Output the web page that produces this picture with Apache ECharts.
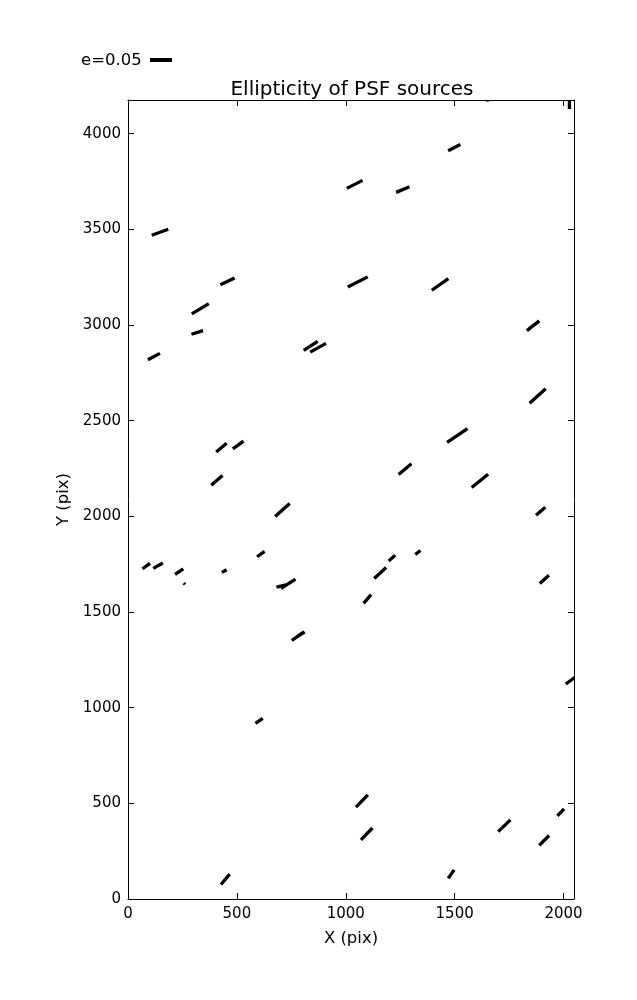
<!DOCTYPE html>
<html>
<head>
<meta charset="utf-8">
<script src="https://cdn.jsdelivr.net/npm/echarts@6/dist/echarts.min.js"></script>
<style>
  html, body { margin: 0; padding: 0; background: #fff; }
  #chart { width: 637px; height: 1000px; }
</style>
</head>
<body>
<div id="chart"></div>
<script>
// Source positions (pix), ellipticity and position angle (deg, screen frame)
const srcX = [1498, 1041, 1262, 147, 1055, 1433, 457, 332, 318, 119, 839, 873, 429, 506, 408, 709,
  1860, 1881, 1512, 1272, 1616, 1895, 84, 138, 235, 259, 442, 610, 704, 736, 780, 796, 602, 447,
  1099, 1158, 1212, 1331, 1912, 2048, 1074, 1096, 1484, 1728, 1911, 1987, 2027, 1665];
const srcY = [3927, 3735, 3708, 3485, 3225, 3212, 3228, 3085, 2961, 2835, 2891, 2881, 2359, 2373, 2188, 2033,
  2996, 2629, 2423, 2247, 2185, 2027, 1740, 1742, 1711, 1648, 1714, 1803, 1636, 1648, 1373, 1386, 931, 103,
  1568, 1704, 1782, 1811, 1671, 1155, 512, 340, 130, 383, 306, 453, 4178, 4222];
const srcE = [0.031, 0.040, 0.033, 0.040, 0.051, 0.046, 0.036, 0.045, 0.0275, 0.031, 0.038, 0.041, 0.031, 0.030, 0.034, 0.0445,
  0.036, 0.049, 0.056, 0.038, 0.048, 0.028, 0.021, 0.025, 0.0225, 0.004, 0.0125, 0.021, 0.0225, 0.039, 0.033, 0.017, 0.020, 0.031,
  0.026, 0.037, 0.020, 0.015, 0.028, 0.046, 0.039, 0.0375, 0.0235, 0.0385, 0.032, 0.022, 0.043, 0.050];
const srcTheta = [27, 27, 23, 20, 27, 35, 26, 31, 17, 28, 33, 29, 40, 36, 41, 42,
  38, 42, 34, 40, 39, 41, 35, 29, 34, -45, 29, 36, 13, 33, 34, 29, 35, 50,
  49, 43, 42, 39, 42, 36, 46, 46, 55, 44, 45, 46, 90, 70];

const xTicks = [0, 500, 1000, 1500, 2000];
const yTicks = [0, 500, 1000, 1500, 2000, 2500, 3000, 3500, 4000];
const X_MAX = 2048, Y_MAX = 4176;
const KEY_E = 0.05;
const KEY_LABEL = 'e=0.05';
const TITLE = 'Ellipticity of PSF sources';

const PX_PER_E = 440;   // stick length scale
const STICK_W = 3.3;
const FONT = 'DejaVu Sans';

const data = srcX.map((x, i) => [x, srcY[i], srcE[i], srcTheta[i]]);

const chart = echarts.init(document.getElementById('chart'), null, { renderer: 'canvas' });

const tickFmtX = v => (xTicks.indexOf(v) >= 0 ? String(v) : '');
const tickFmtY = v => (yTicks.indexOf(v) >= 0 ? String(v) : '');

const axisCommon = {
  type: 'value',
  splitLine: { show: false },
  axisLine: { show: true, onZero: false, lineStyle: { color: '#000', width: 1 } },
  axisTick: { show: true, inside: true, length: 6, lineStyle: { color: '#000', width: 1 } },
  minorTick: { show: false }
};

const option = {
  animation: false,
  backgroundColor: '#fff',
  title: {
    text: TITLE,
    left: 347, top: 75,
    textAlign: 'center',
    textStyle: { fontFamily: FONT, fontSize: 20, fontWeight: 'normal', color: '#000' }
  },
  grid: { left: 128, top: 100, width: 446, height: 799 },
  xAxis: [
    Object.assign({}, axisCommon, {
      position: 'bottom', min: 0, max: X_MAX, interval: 500,
      name: 'X (pix)', nameLocation: 'middle', nameGap: 31,
      nameTextStyle: { fontFamily: FONT, fontSize: 16.5, color: '#000' },
      axisLabel: { show: true, margin: 8, formatter: tickFmtX, fontFamily: FONT, fontSize: 15, color: '#000' }
    }),
    Object.assign({}, axisCommon, {
      position: 'top', min: 0, max: X_MAX, interval: 500,
      axisLabel: { show: false }
    })
  ],
  yAxis: [
    Object.assign({}, axisCommon, {
      position: 'left', min: 0, max: Y_MAX, interval: 500,
      name: 'Y (pix)', nameLocation: 'middle', nameGap: 56, nameRotate: 90,
      nameTextStyle: { fontFamily: FONT, fontSize: 16.5, color: '#000' },
      axisLabel: { show: true, margin: 7, formatter: tickFmtY, fontFamily: FONT, fontSize: 15, color: '#000' }
    }),
    Object.assign({}, axisCommon, {
      position: 'right', min: 0, max: Y_MAX, interval: 500,
      axisLabel: { show: false }
    })
  ],
  graphic: [
    {
      type: 'text', left: 81, top: 52,
      style: { text: KEY_LABEL, fontFamily: FONT, fontSize: 16.5, fill: '#000' }
    },
    {
      type: 'line',
      shape: { x1: 150, y1: 60, x2: 150 + KEY_E * PX_PER_E, y2: 60 },
      style: { stroke: '#000', lineWidth: 4, lineCap: 'butt' }
    }
  ],
  series: [{
    type: 'custom',
    xAxisIndex: 0, yAxisIndex: 0,
    clip: true,
    data: data,
    encode: { x: 0, y: 1 },
    renderItem: function (params, api) {
      const c = api.coord([api.value(0), api.value(1)]);
      const e = api.value(2);
      const th = api.value(3) * Math.PI / 180;
      const h = e * PX_PER_E / 2;
      const dx = h * Math.cos(th), dy = h * Math.sin(th);
      return {
        type: 'line',
        shape: { x1: c[0] - dx, y1: c[1] + dy, x2: c[0] + dx, y2: c[1] - dy },
        style: { stroke: '#000', lineWidth: STICK_W, lineCap: 'butt', fill: null }
      };
    }
  }]
};

chart.setOption(option);
</script>
</body>
</html>
